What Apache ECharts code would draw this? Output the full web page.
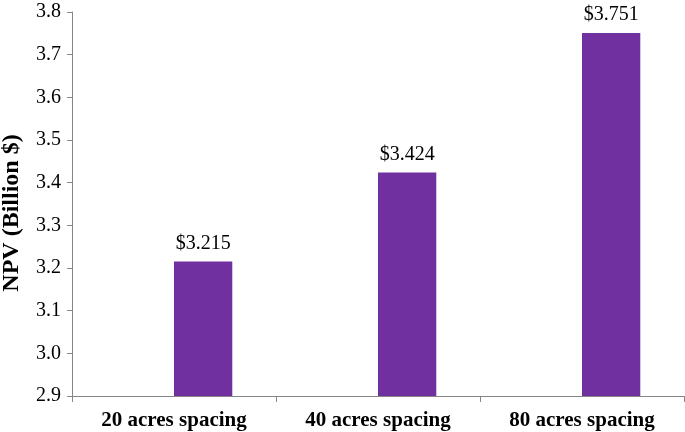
<!DOCTYPE html>
<html><head><meta charset="utf-8">
<script src="https://cdn.jsdelivr.net/npm/echarts@6/dist/echarts.min.js"></script>
<style>html,body{margin:0;padding:0;background:#fff}#c{width:685px;height:432px}</style>
</head><body><div id="c"></div>
<script>
const categories = ['20 acres spacing', '40 acres spacing', '80 acres spacing'];
const npvValues = [3.215, 3.424, 3.751];
const yTicks = { min: 2.9, max: 3.8, interval: 0.1 };
const serif = '"Liberation Serif", "Times New Roman", serif';
const chart = echarts.init(document.getElementById('c'));
chart.setOption({
  animation: false,
  grid: { left: 72, right: 1, top: 12, bottom: 36, containLabel: false, outerBoundsMode: 'none' },
  xAxis: {
    type: 'category', data: categories,
    axisLine: { lineStyle: { color: '#868686', width: 1 } },
    axisTick: { show: true, length: 6, alignWithLabel: false, lineStyle: { color: '#868686' } },
    axisLabel: { color: '#000', fontFamily: serif, fontSize: 21, fontWeight: 'bold', margin: 14 }
  },
  yAxis: {
    type: 'value', min: yTicks.min, max: yTicks.max, interval: yTicks.interval,
    name: 'NPV (Billion $)', nameLocation: 'middle', nameGap: 48, nameRotate: 90,
    nameTextStyle: { color: '#000', fontFamily: serif, fontSize: 24, fontWeight: 'bold', padding: [0, 18, 0, 0] },
    axisLine: { show: true, lineStyle: { color: '#868686', width: 1 } },
    axisTick: { show: true, length: 5, lineStyle: { color: '#868686' } },
    splitLine: { show: false },
    axisLabel: { color: '#000', fontFamily: serif, fontSize: 20, margin: 11, formatter: v => v.toFixed(1) }
  },
  series: [
    { type: 'bar', data: categories.map(() => null), barGap: '0%', barCategoryGap: '42.857%' },
    {
      type: 'bar', data: npvValues, barGap: '0%', barCategoryGap: '42.857%',
      itemStyle: { color: '#7030A0' },
      label: { show: true, position: 'top', distance: 8, color: '#000', fontFamily: serif, fontSize: 20,
        formatter: p => '$' + p.value.toFixed(3) }
    }
  ]
});
</script></body></html>
